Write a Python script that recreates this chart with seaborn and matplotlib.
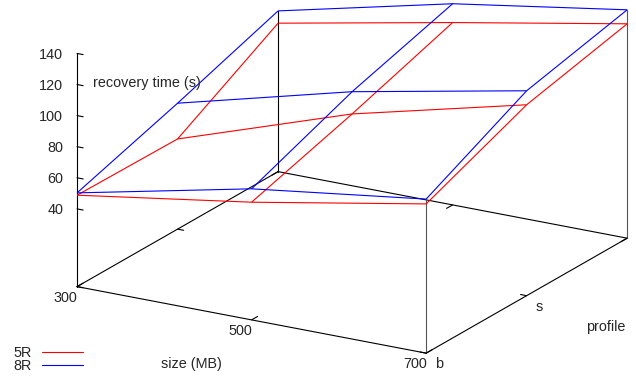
import numpy as np
import matplotlib
matplotlib.use("Agg")
import matplotlib.pyplot as plt
import matplotlib.transforms as mtransforms
from matplotlib.lines import Line2D
from mpl_toolkits.mplot3d import proj3d
import seaborn as sns

# size of the data set (MB) along x
sizes = [300, 500, 700]
# profile axis: grid rows and the tick labels shown
profile_rows = [0, 1, 2]
profile_ticks = [0, 1]
profile_labels = ["b", "s"]
# recovery time (s); one row per profile, one column per size
recovery_5r = [[48.8, 65.7, 86.0],
               [48.0, 85.5, 112.8],
               [85.5, 107.3, 127.9]]
recovery_8r = [[50.3, 74.3, 89.1],
               [71.0, 99.8, 121.8],
               [93.4, 119.4, 136.9]]
z_ticks = [40, 60, 80, 100, 120, 140]
series_names = ["5R", "8R"]
series_colors = ["#ff0000", "#0000ff"]

sns.set_theme(style="white")
plt.rcParams["font.family"] = ["Liberation Sans", "DejaVu Sans"]
FS = 10.4
LW = 0.8

W_PX, H_PX, DPI = 636, 377, 100
fig = plt.figure(figsize=(W_PX / DPI, H_PX / DPI), dpi=DPI)
ax = fig.add_axes([0, 0, 1, 1], projection="3d")
ax.set_proj_type("ortho")
ax.view_init(elev=19.28, azim=-60)
ax.set_box_aspect((403, 402, 247))
ax.computed_zorder = False
ax.set_axis_off()

# the base plane sits half a z-range below the lowest z tick
z_lo, z_hi = z_ticks[0], z_ticks[-1]
z_floor = z_lo - 0.5 * (z_hi - z_lo)
x0, x1 = sizes[0], sizes[-1]
p0, p1 = profile_rows[0], profile_rows[-1]
ax.set_xlim(x0, x1, view_margin=0)
ax.set_ylim(p0, p1, view_margin=0)
ax.set_zlim(z_floor, z_hi, view_margin=0)


def shifted(dx, dy):
    """transData plus an offset given in pixels (dy positive = down)."""
    return ax.transData + mtransforms.ScaledTranslation(dx / DPI, -dy / DPI, fig.dpi_scale_trans)


# base rectangle and z axis
edge = dict(color="black", lw=LW)
ax.plot([x0, x1], [p0, p0], [z_floor, z_floor], **edge)
ax.plot([x0, x1], [p1, p1], [z_floor, z_floor], **edge)
ax.plot([x0, x0], [p0, p1], [z_floor, z_floor], **edge)
ax.plot([x1, x1], [p0, p1], [z_floor, z_floor], **edge)
ax.plot([x0, x0], [p0, p0], [z_floor, z_hi], **edge)

# corner posts rising to the higher surface
top = np.maximum(np.array(recovery_5r), np.array(recovery_8r))
for xi, pi, col in [(-1, 0, "#555555"), (0, -1, "black"), (-1, -1, "#555555")]:
    ax.plot([sizes[xi]] * 2, [profile_rows[pi]] * 2, [z_floor, top[pi, xi]], color=col, lw=LW)

# tick marks (with mirrored ticks on the opposite edge)
dx_tick = 7.0
dp_tick = 0.06
for s in sizes:
    ax.plot([s, s], [p0, p0 + dp_tick], [z_floor, z_floor], **edge)
    ax.plot([s, s], [p1, p1 - dp_tick], [z_floor, z_floor], **edge)
for p in profile_ticks:
    ax.plot([x1, x1 - dx_tick], [p, p], [z_floor, z_floor], **edge)
    ax.plot([x0, x0 + dx_tick], [p, p], [z_floor, z_floor], **edge)
for z in z_ticks:
    ax.plot([x0, x0 + dx_tick], [p0, p0], [z, z], **edge)

# surfaces
X, P = np.meshgrid(sizes, profile_rows)
for vals, color in zip([recovery_5r, recovery_8r], series_colors):
    ax.plot_wireframe(X, P, np.array(vals), color=color, lw=LW)

# axis titles
fig.text(93 / W_PX, 1 - 83.3 / H_PX, "recovery time (s)", ha="left", va="center", fontsize=FS)
fig.text(191.3 / W_PX, 1 - 364.3 / H_PX, "size (MB)", ha="center", va="center", fontsize=FS)
fig.text(605.5 / W_PX, 1 - 326.7 / H_PX, "profile", ha="center", va="center", fontsize=FS)

# key: label first, then the line sample
handles = [Line2D([], [], color=c, lw=LW) for c in series_colors]
fig.legend(handles, series_names, loc="center left", bbox_to_anchor=(13 / W_PX, 17.6 / H_PX),
           frameon=False, markerfirst=False, fontsize=FS, handlelength=2.83,
           handletextpad=0.74, labelspacing=-0.07, borderpad=0, borderaxespad=0)

# place the axes box so the frame corners land at these pixel positions
fig.canvas.draw()
frame_3d = [(x0, p0, z_floor), (x1, p0, z_floor), (x0, p1, z_floor), (x1, p1, z_floor), (x0, p0, z_hi)]
frame_px = np.array([(77, 286.5), (426, 353), (278, 171.5), (627.5, 238), (77, 54)], float)
frame_px[:, 1] = H_PX - frame_px[:, 1]


def to_display(pts):
    M = ax.get_proj()
    out = []
    for (a, b, c) in pts:
        u, v, _ = proj3d.proj_transform(a, b, c, M)
        out.append(ax.transData.transform((u, v)))
    return np.array(out)


bb = ax.get_position().transformed(fig.transFigure)
n = (to_display(frame_3d) - [bb.x0, bb.y0]) / bb.width
A, rhs = [], []
for i in range(len(n)):
    A.append([1, 0, n[i, 0]]); rhs.append(frame_px[i, 0])
    A.append([0, 1, n[i, 1]]); rhs.append(frame_px[i, 1])
(bx, by, w), *_ = np.linalg.lstsq(np.array(A), np.array(rhs), rcond=None)
ax.set_position([bx / W_PX, by / H_PX, w / W_PX, w / H_PX])
fig.canvas.draw()

# tick labels, anchored at the projected tick positions
M = ax.get_proj()


def tick_label(x, y, z, s, dx, dy, ha):
    u, v, _ = proj3d.proj_transform(x, y, z, M)
    ax.text2D(u, v, s, ha=ha, va="baseline", fontsize=FS, transform=shifted(dx, dy))


for z in z_ticks:
    tick_label(x0, p0, z, f"{z}", -14, 5.2, "right")
for s in sizes:
    tick_label(s, p0, z_floor, f"{s}", 0.5, 15.3, "right")
for p, lab in zip(profile_ticks, profile_labels):
    tick_label(x1, p, z_floor, lab, 9, 15, "left")

fig.savefig("out.png", dpi=DPI)
